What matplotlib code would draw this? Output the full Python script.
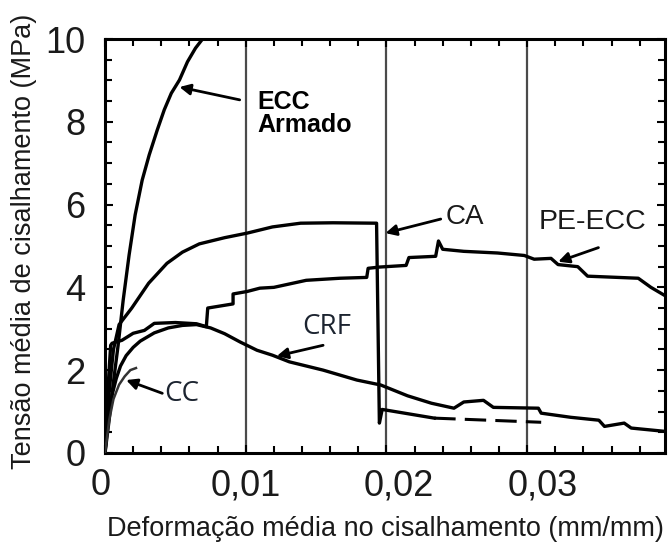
import matplotlib.pyplot as plt
from matplotlib.ticker import MultipleLocator
from matplotlib.transforms import ScaledTranslation

plt.rcParams['font.family'] = ['Liberation Sans', 'DejaVu Sans']

# ECC armado
eccX = [0, 0.00029, 0.00057, 0.00093, 0.00129, 0.00171, 0.00214, 0.00264, 0.00314,
        0.00371, 0.00421, 0.00471, 0.00529, 0.00586, 0.00643, 0.00693]
eccY = [0, 0.79, 1.64, 2.60, 3.69, 4.78, 5.75, 6.59, 7.20, 7.80, 8.29, 8.69, 9.01,
        9.45, 9.78, 10.0]

# concreto armado (CA)
caX = [0, 0.0003, 0.0006, 0.0010, 0.0019, 0.0031, 0.0044, 0.0055, 0.0067, 0.0085,
       0.0101, 0.0119, 0.0139, 0.0162, 0.0193, 0.0195, 0.0197, 0.0234]
caY = [0, 1.5, 2.5, 3.1, 3.5, 4.1, 4.58, 4.85, 5.05, 5.2, 5.31, 5.46, 5.55, 5.56,
       5.55, 0.72, 1.05, 0.84]
caTailX = [0.0234, 0.0310]
caTailY = [0.84, 0.74]

# PE-ECC
peX = [0, 0.0002, 0.0004, 0.0005, 0.0012, 0.0020, 0.0028, 0.0035, 0.0050, 0.0065,
       0.0072, 0.0073, 0.0091, 0.0091, 0.0101, 0.0110, 0.0120, 0.0143, 0.0167,
       0.0186, 0.0187, 0.0195, 0.0214, 0.0216, 0.0235, 0.0237, 0.0240, 0.0255,
       0.0279, 0.0298, 0.0305, 0.0317, 0.0322, 0.0336, 0.0343, 0.0379, 0.0388,
       0.0398]
peY = [0, 1.5, 2.6, 2.65, 2.72, 2.89, 2.96, 3.13, 3.15, 3.12,
       3.05, 3.5, 3.6, 3.84, 3.9, 3.98, 4.0, 4.17, 4.22,
       4.24, 4.46, 4.49, 4.53, 4.72, 4.75, 5.12, 4.92, 4.87,
       4.83, 4.77, 4.68, 4.7, 4.55, 4.5, 4.27, 4.22, 4.0,
       3.8]

# CRF
crfX = [0, 0.0002, 0.0005, 0.0008, 0.0011, 0.0015, 0.0020, 0.0025, 0.0035, 0.0045,
        0.0055, 0.0065, 0.0075, 0.0085, 0.0096, 0.0108, 0.0119, 0.0131, 0.0155,
        0.0179, 0.0196, 0.0215, 0.0232, 0.0248, 0.0255, 0.0269, 0.0276, 0.0308,
        0.0310, 0.0331, 0.0351, 0.0355, 0.0369, 0.0374, 0.0398]
crfY = [0, 0.8, 1.4, 1.8, 2.1, 2.35, 2.55, 2.7, 2.9, 3.02,
        3.08, 3.1, 3.02, 2.88, 2.68, 2.48, 2.36, 2.2, 2.0,
        1.76, 1.64, 1.38, 1.2, 1.08, 1.23, 1.27, 1.10, 1.08,
        0.96, 0.86, 0.79, 0.64, 0.72, 0.6, 0.52]

# concreto comum (CC)
ccX = [0, 0.0003, 0.0006, 0.0010, 0.0014, 0.0018, 0.0022]
ccY = [0, 0.8, 1.3, 1.65, 1.85, 2.0, 2.05]

xTicks = [0, 0.01, 0.02, 0.03]
xTickLabels = ['0', '0,01', '0,02', '0,03']
xLabelShift = [-4, 0, 12, 16]
yTicks = [0, 2, 4, 6, 8, 10]

fig = plt.figure(figsize=(6.69, 5.45), dpi=100)
ax = fig.add_axes([0.157, 0.169, 0.837, 0.7594])

for g in xTicks[1:]:
    ax.axvline(g, color='#4a4a4a', lw=1.6, zorder=1)

lineStyle = dict(color='black', lw=2.4, solid_joinstyle='round', zorder=3)
ax.plot(eccX, eccY, **lineStyle)
ax.plot(caX, caY, **lineStyle)
ax.plot(caTailX, caTailY, color='black', lw=2.2, ls=(0, (7, 3)), zorder=3)
ax.plot(peX, peY, **lineStyle)
ax.plot(crfX, crfY, **lineStyle)
ax.plot(ccX, ccY, color='#333333', lw=1.8, zorder=3)

ax.set_xlim(0, 0.0398)
ax.set_ylim(0, 10)

ax.set_xticks(xTicks)
ax.set_xticklabels(xTickLabels)
ax.set_yticks(yTicks)
ax.xaxis.set_minor_locator(MultipleLocator(0.002))
ax.yaxis.set_minor_locator(MultipleLocator(0.5))
ax.tick_params(which='both', direction='in', top=True, right=True, width=1.5,
               colors='black', labelcolor='#1a1a1a', labelsize=26)
ax.tick_params(which='major', length=6)
ax.tick_params(which='minor', length=5)
ax.tick_params(axis='x', pad=11)
ax.tick_params(axis='y', pad=14)

for lbl, dx in zip(ax.get_xticklabels(), xLabelShift):
    lbl.set_transform(lbl.get_transform() + ScaledTranslation(dx / 100, 0, fig.dpi_scale_trans))

for side in ax.spines.values():
    side.set_linewidth(2.2)

ax.set_xlabel('Deformação média no cisalhamento (mm/mm)', fontsize=19.5, color='#1a1a1a', labelpad=9)
ax.set_ylabel('Tensão média de cisalhamento (MPa)', fontsize=19.5, color='#1a1a1a')
ax.yaxis.set_label_coords(-0.122, 0.511)

arrow = dict(arrowstyle='-|>', color='black', lw=2, mutation_scale=16, shrinkA=0, shrinkB=0)
ax.annotate('', xy=(0.00529, 8.84), xytext=(0.00957, 8.53), arrowprops=arrow, zorder=4)
ax.annotate('', xy=(0.01993, 5.31), xytext=(0.02386, 5.65), arrowprops=arrow, zorder=4)
ax.annotate('', xy=(0.03221, 4.62), xytext=(0.03507, 4.96), arrowprops=arrow, zorder=4)
ax.annotate('', xy=(0.01221, 2.34), xytext=(0.0155, 2.60), arrowprops=arrow, zorder=4)
ax.annotate('', xy=(0.0015, 1.76), xytext=(0.00407, 1.44), arrowprops=arrow, zorder=4)

ax.text(0.01086, 8.2, 'ECC\nArmado', fontsize=18, fontweight='bold', ha='left', va='center',
        linespacing=0.95, color='black')
ax.text(0.02421, 5.69, 'CA', fontsize=20, ha='left', va='center', color='#1a1a1a')
ax.text(0.03079, 5.57, 'PE-ECC', fontsize=20.5, ha='left', va='center', color='#1a1a1a')
ax.text(0.0140, 3.04, 'CRF', fontsize=20, ha='left', va='center', color='#1c2430',
        family=['Open Sans', 'DejaVu Sans'])
ax.text(0.0042, 1.42, 'CC', fontsize=20, ha='left', va='center', color='#1c2430',
        family=['Open Sans', 'DejaVu Sans'])

fig.savefig('out.png', dpi=100)
